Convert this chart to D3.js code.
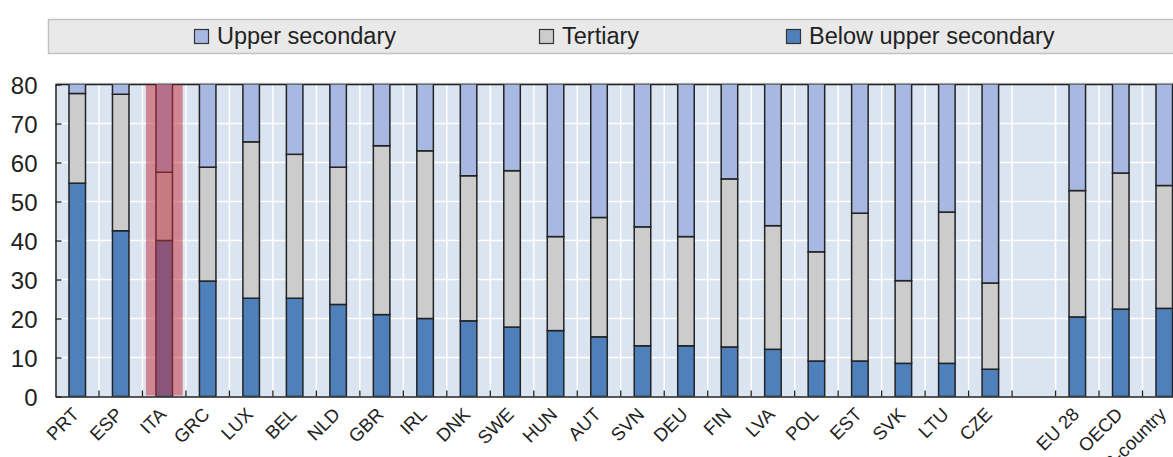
<!DOCTYPE html>
<html>
<head>
<meta charset="utf-8">
<script src="https://cdn.jsdelivr.net/npm/d3@7/dist/d3.min.js"></script>
<style>
  html, body { margin: 0; padding: 0; background: #fff; }
  svg { display: block; font-family: "Liberation Sans", Arial, sans-serif; }
</style>
</head>
<body>
<svg id="chart" width="1173" height="457"></svg>
<script>
// Country codes along the x axis; the empty string is a spacer slot before the averages
const categories = ["PRT","ESP","ITA","GRC","LUX","BEL","NLD","GBR","IRL","DNK","SWE","HUN","AUT","SVN","DEU","FIN","LVA","POL","EST","SVK","LTU","CZE","","EU28","OECD","36-country"];
const categoryLabels = ["PRT","ESP","ITA","GRC","LUX","BEL","NLD","GBR","IRL","DNK","SWE","HUN","AUT","SVN","DEU","FIN","LVA","POL","EST","SVK","LTU","CZE","","EU 28","OECD","36-country"];

// Shares (%) by educational attainment
const belowUpperSecondary = [54.7, 42.5, 40.0, 29.6, 25.2, 25.2, 23.6, 21.0, 20.0, 19.4, 17.8, 16.9, 15.3, 13.0, 13.0, 12.7, 12.1, 9.1, 9.1, 8.5, 8.5, 7.0, null, 20.4, 22.4, 22.6];
const tertiary            = [23.0, 35.0, 17.5, 29.2, 40.1, 36.9, 35.2, 43.3, 43.0, 37.2, 40.1, 24.1, 30.6, 30.5, 28.0, 43.1, 31.7, 28.0, 37.9, 21.2, 38.8, 22.1, null, 32.4, 34.9, 31.5];
const upperSecondary      = [22.3, 22.5, 42.5, 41.2, 34.7, 37.9, 41.2, 35.7, 37.0, 43.4, 42.1, 59.0, 54.1, 56.5, 59.0, 44.2, 56.2, 62.9, 53.0, 70.3, 52.7, 70.9, null, 47.2, 42.7, 45.9];

const yTicks = [0, 10, 20, 30, 40, 50, 60, 70, 80];
const highlighted = "ITA";

// Series in stacking order (bottom to top) and legend order
const seriesKeys = ["below", "tertiary", "upper"];
const seriesNames = { upper: "Upper secondary", tertiary: "Tertiary", below: "Below upper secondary" };
const legendOrder = ["upper", "tertiary", "below"];
const colors = { upper: "#a7b9e3", tertiary: "#cccccc", below: "#4e80bc" };

const rows = categories.map((c, i) => ({
  key: c,
  below: belowUpperSecondary[i],
  tertiary: tertiary[i],
  upper: upperSecondary[i]
}));

const svg = d3.select("#chart");
const plot = { left: 55.5, right: 1186, top: 84.5, bottom: 396.5 };

const x = d3.scaleBand().domain(categories).range([plot.left, plot.right]).paddingInner(0).paddingOuter(0);
const y = d3.scaleLinear().domain([0, 80]).range([plot.bottom, plot.top]);
const barW = x.bandwidth() * 0.38;

// Legend strip
const legend = svg.append("g");
legend.append("rect")
  .attr("x", 48.5).attr("y", 19.5).attr("width", 1140).attr("height", 34)
  .attr("fill", "#e9e9e9").attr("stroke", "#c2c2c2").attr("stroke-width", 1.5);
const legendX = { upper: 194.5, tertiary: 539.5, below: 786.5 };
legendOrder.forEach(k => {
  const g = legend.append("g").attr("transform", `translate(${legendX[k]},29.5)`);
  g.append("rect").attr("width", 14).attr("height", 14)
    .attr("fill", colors[k]).attr("stroke", "#333").attr("stroke-width", 1.2);
  g.append("text").attr("x", 22.5).attr("y", 14.5)
    .attr("font-size", 23.5).attr("fill", "#222").text(seriesNames[k]);
});

// Plot background
svg.append("defs").append("clipPath").attr("id", "plotClip")
  .append("rect").attr("x", plot.left).attr("y", plot.top)
  .attr("width", plot.right - plot.left).attr("height", plot.bottom - plot.top);

svg.append("line").attr("x1", plot.left).attr("x2", 1173)
  .attr("y1", plot.top - 1.2).attr("y2", plot.top - 1.2)
  .attr("stroke", "#c4c4c4").attr("stroke-width", 1);

svg.append("rect").attr("x", plot.left).attr("y", plot.top)
  .attr("width", plot.right - plot.left).attr("height", plot.bottom - plot.top)
  .attr("fill", "#dbe5f1");

// White gridlines: horizontal at ticks, vertical at category boundaries
const grid = svg.append("g").attr("clip-path", "url(#plotClip)");
grid.selectAll("line.h").data(yTicks.slice(1, -1)).join("line")
  .attr("x1", plot.left).attr("x2", plot.right)
  .attr("y1", d => y(d)).attr("y2", d => y(d))
  .attr("stroke", "#fff").attr("stroke-width", 1.5);
const boundaries = categories.slice(1).map(c => x(c));
grid.selectAll("line.v").data(boundaries).join("line")
  .attr("x1", d => d).attr("x2", d => d)
  .attr("y1", plot.top).attr("y2", plot.bottom)
  .attr("stroke", "#fff").attr("stroke-width", 1.5);

// Top frame line (bars are painted over it)
svg.append("line").attr("x1", plot.left).attr("x2", plot.right)
  .attr("y1", plot.top).attr("y2", plot.top)
  .attr("stroke", "#222").attr("stroke-width", 1.5);

// Stacked bars
const stacked = d3.stack().keys(seriesKeys)(rows.filter(r => r.below !== null));
const bars = svg.append("g").attr("clip-path", "url(#plotClip)");
bars.selectAll("g.series").data(stacked).join("g")
  .attr("fill", d => colors[d.key])
  .selectAll("rect").data(d => d).join("rect")
  .attr("x", d => x(d.data.key) + (x.bandwidth() - barW) / 2)
  .attr("width", barW)
  .attr("y", d => y(d[1]))
  .attr("height", d => y(d[0]) - y(d[1]))
  .attr("stroke", "#222").attr("stroke-width", 1.5);

// Highlight band for Italy
bars.append("rect")
  .attr("x", x(highlighted) + x.bandwidth() * 0.08)
  .attr("width", x.bandwidth() * 0.845)
  .attr("y", y(80)).attr("height", y(0) - y(80) - 1)
  .attr("fill", "rgb(196,46,60)").attr("fill-opacity", 0.52);

// Axes
const yAxis = d3.axisLeft(y).tickValues(yTicks).tickSizeInner(-6).tickSizeOuter(0).tickPadding(18);
const gy = svg.append("g").attr("transform", `translate(${plot.left},0)`).call(yAxis);
gy.select(".domain").attr("stroke", "#222").attr("stroke-width", 1.5);
gy.selectAll(".tick line").attr("stroke", "#222").attr("stroke-width", 1.3);
gy.selectAll(".tick text").attr("font-size", 24).attr("fill", "#222")
  .attr("font-family", "Liberation Sans, Arial, sans-serif").attr("dy", "0.36em");

const labelOf = d3.scaleOrdinal().domain(categories).range(categoryLabels);
const xAxis = d3.axisBottom(x).tickSize(0).tickFormat(d => labelOf(d));
const gx = svg.append("g").attr("transform", `translate(0,${plot.bottom})`).call(xAxis);
gx.select(".domain").attr("stroke", "#222").attr("stroke-width", 1.5);
gx.selectAll(".tick text")
  .attr("font-size", 18.5).attr("fill", "#222")
  .attr("font-family", "Liberation Sans, Arial, sans-serif")
  .attr("text-anchor", "end")
  .attr("y", 0).attr("dy", 0)
  .attr("transform", "translate(3,19) rotate(-45)");

// Small tick marks at category boundaries, pointing up
svg.append("g").selectAll("line").data(boundaries).join("line")
  .attr("x1", d => d).attr("x2", d => d)
  .attr("y1", plot.bottom).attr("y2", plot.bottom - 6)
  .attr("stroke", "#222").attr("stroke-width", 1.3);
</script>
</body>
</html>
